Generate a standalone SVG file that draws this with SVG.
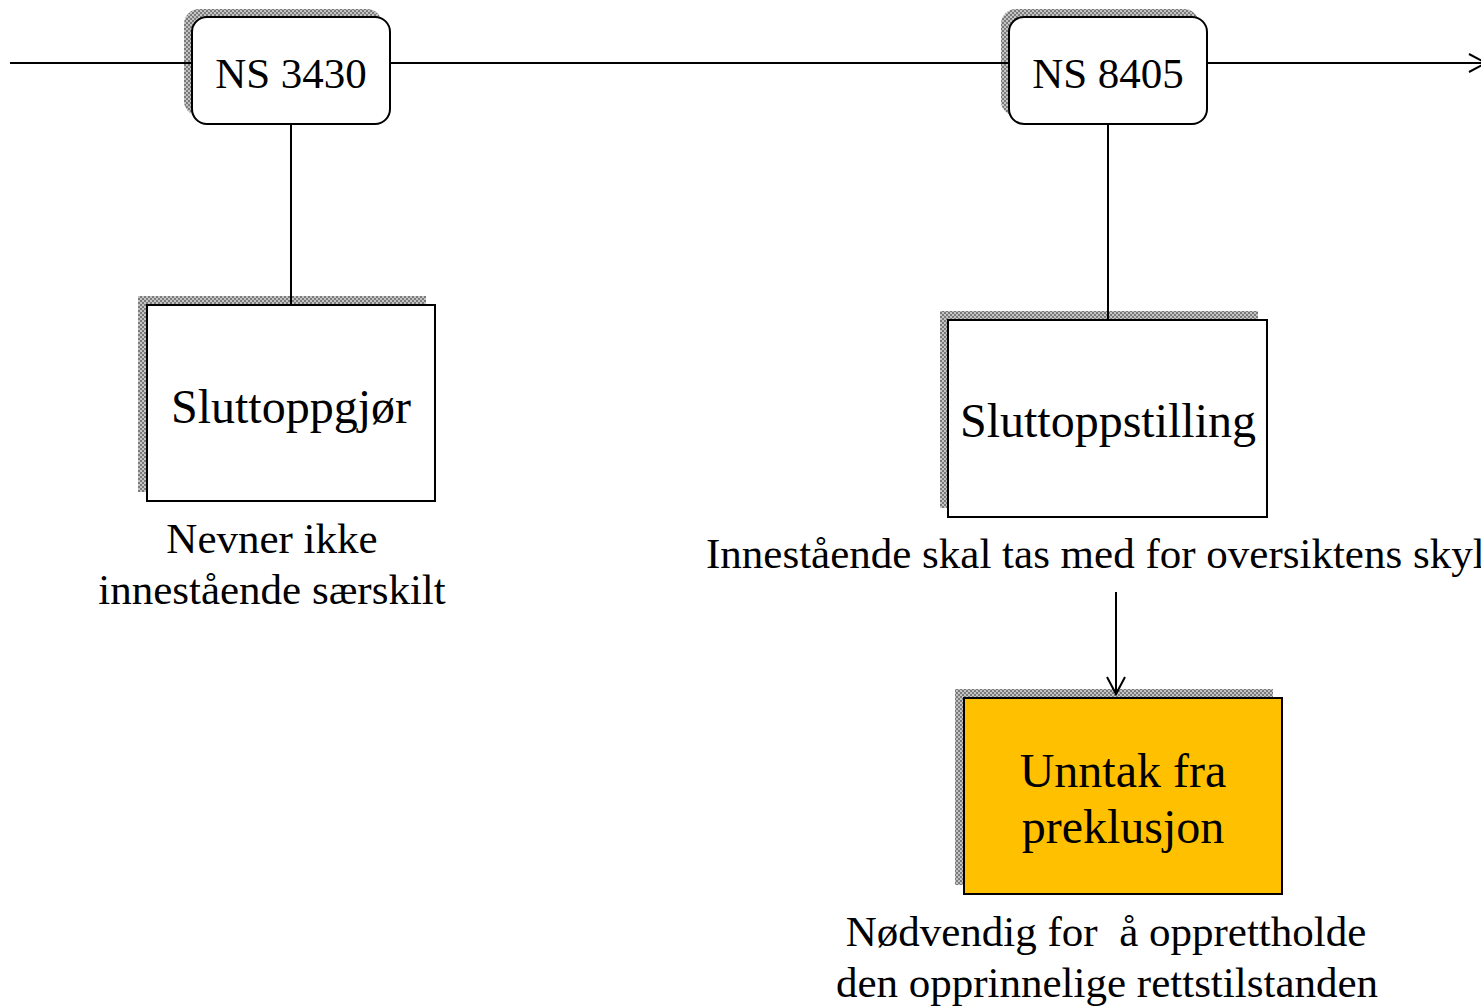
<svg xmlns="http://www.w3.org/2000/svg" width="1481" height="1007" viewBox="0 0 1481 1007">
<style>
.t{font-family:"Liberation Serif","Times New Roman",serif;fill:#000}
.box{stroke:#000;stroke-width:2}
.ln{stroke:#000;stroke-width:2;fill:none}
.sh{fill:url(#chk)}
</style>
<defs>
<pattern id="chk" width="4" height="4" patternUnits="userSpaceOnUse">
<rect width="4" height="4" fill="#c4c4c4"/>
<rect width="2" height="2" fill="#7a7a7a"/>
<rect x="2" y="2" width="2" height="2" fill="#7a7a7a"/>
</pattern>
<marker id="open" markerWidth="22" markerHeight="22" refX="18" refY="10" orient="auto" markerUnits="userSpaceOnUse">
<path d="M1,1 L18,10 L1,19" fill="none" stroke="#000" stroke-width="2"/>
</marker>
</defs>
<rect width="1481" height="1007" fill="#fff"/>
<g id="ns3430">
<rect class="sh" x="184" y="9" width="198" height="107" rx="15"/>
<rect class="box" x="192" y="17" width="198" height="107" rx="15" fill="#fff"/>
<text class="t" x="291" y="88" font-size="43" text-anchor="middle">NS 3430</text>
</g>
<g id="ns8405">
<rect class="sh" x="1001" y="9" width="198" height="107" rx="15"/>
<rect class="box" x="1009" y="17" width="198" height="107" rx="15" fill="#fff"/>
<text class="t" x="1108" y="88" font-size="43" text-anchor="middle">NS 8405</text>
</g>
<g id="sluttoppgjor">
<rect class="sh" x="138" y="296" width="288" height="196"/>
<rect class="box" x="147" y="305" width="288" height="196" fill="#fff"/>
<text class="t" x="291" y="423" font-size="48" text-anchor="middle">Sluttoppgjør</text>
</g>
<g id="label-nevner">
<text class="t" x="272" y="553" font-size="43" text-anchor="middle">Nevner ikke</text>
<text class="t" x="272" y="604" font-size="43" text-anchor="middle">innestående særskilt</text>
</g>
<g id="sluttoppstilling">
<rect class="sh" x="940" y="311" width="318" height="197"/>
<rect class="box" x="948" y="320" width="319" height="197" fill="#fff"/>
<text class="t" x="1108" y="437" font-size="48" text-anchor="middle">Sluttoppstilling</text>
</g>
<g id="label-innestaende">
<text class="t" x="706" y="568" font-size="43">Innestående skal tas med for oversiktens skyld</text>
</g>
<g id="unntak">
<rect class="sh" x="955" y="689" width="318" height="196"/>
<rect class="box" x="964" y="698" width="318" height="196" fill="#ffc000"/>
<text class="t" x="1123" y="787" font-size="48" text-anchor="middle">Unntak fra</text>
<text class="t" x="1123" y="843" font-size="48" text-anchor="middle">preklusjon</text>
</g>
<g id="label-nodvendig">
<text class="t" x="1106" y="946" font-size="43" text-anchor="middle" xml:space="preserve">Nødvendig for  å opprettholde</text>
<text class="t" x="1107" y="997" font-size="43" text-anchor="middle">den opprinnelige rettstilstanden</text>
</g>
<g id="connectors">
<line class="ln" x1="10" y1="63" x2="192" y2="63"/>
<line class="ln" x1="390" y1="63" x2="1009" y2="63"/>
<line class="ln" x1="1207" y1="63" x2="1486" y2="63" marker-end="url(#open)"/>
<line class="ln" x1="291" y1="124" x2="291" y2="305"/>
<line class="ln" x1="1108" y1="124" x2="1108" y2="320"/>
<line class="ln" x1="1116" y1="592" x2="1116" y2="694" marker-end="url(#open)"/>
</g>
</svg>
